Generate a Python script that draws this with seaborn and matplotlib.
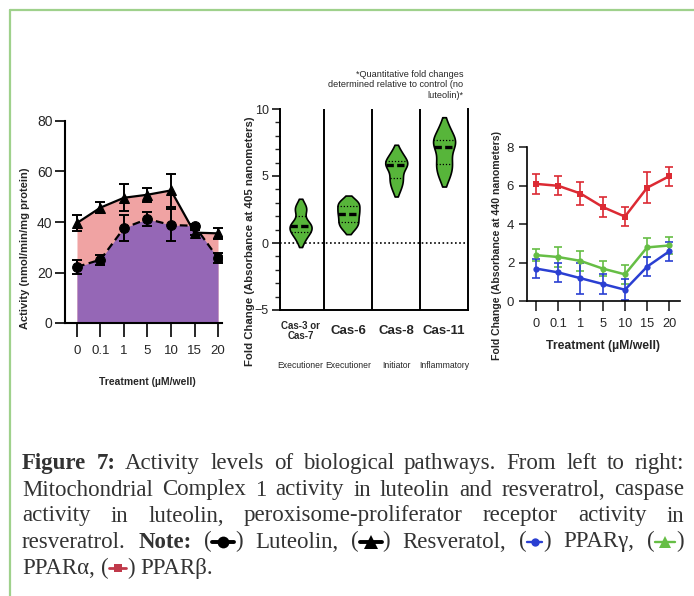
import re
import numpy as np
import pandas as pd
import matplotlib
matplotlib.use("Agg")
import matplotlib.pyplot as plt
from matplotlib import font_manager
from matplotlib.lines import Line2D
import seaborn as sns

# ---------------- data ----------------
conc_labels = ["0", "0.1", "1", "5", "10", "15", "20"]

resveratrol_mean = [39.6, 45.7, 49.6, 50.8, 52.5, 35.8, 35.5]
resveratrol_err = [3.0, 2.2, 5.3, 2.8, 6.4, 1.0, 2.2]
luteolin_mean = [22.2, 25.1, 37.6, 41.2, 38.8, 38.5, 25.7]
luteolin_err = [2.8, 2.0, 5.0, 2.8, 6.2, 0.8, 2.0]

caspases = ["Cas-3 or\nCas-7", "Cas-6", "Cas-8", "Cas-11"]
caspase_roles = ["Executioner", "Executioner", "Initiator", "Inflammatory"]
cas37_fold = [0.1, 0.6, 0.8, 0.9, 1.2, 1.3, 1.4, 1.6, 2.4, 2.5, 2.9]
cas6_fold = [1.0, 1.3, 1.5, 1.7, 2.0, 2.2, 2.4, 2.6, 2.9, 3.0, 3.2]
cas8_fold = [3.9, 4.4, 4.7, 5.0, 5.5, 5.8, 5.9, 6.0, 6.2, 6.5, 6.9]
cas11_fold = [4.8, 5.3, 5.8, 6.0, 6.6, 7.2, 7.4, 7.6, 7.8, 8.2, 8.8]

ppar_beta_mean = [6.1, 6.0, 5.6, 4.9, 4.4, 5.9, 6.5]
ppar_beta_err = [0.5, 0.5, 0.6, 0.5, 0.5, 0.8, 0.5]
ppar_alpha_mean = [2.4, 2.3, 2.1, 1.7, 1.4, 2.8, 2.9]
ppar_alpha_err = [0.3, 0.5, 0.5, 0.4, 0.5, 0.5, 0.45]
ppar_gamma_mean = [1.7, 1.5, 1.2, 0.9, 0.6, 1.8, 2.6]
ppar_gamma_err = [0.5, 0.5, 0.8, 0.5, 0.55, 0.5, 0.5]

# ---------------- style ----------------
sns.set_style("ticks")
installed = {f.name for f in font_manager.fontManager.ttflist}
NARROW = "Liberation Sans Narrow" if "Liberation Sans Narrow" in installed else "Liberation Sans"
plt.rcParams["font.family"] = [NARROW, "DejaVu Sans"]
SANS = ["Liberation Sans", "DejaVu Sans"]
SERIF = ["Liberation Serif", "DejaVu Serif"]

PINK = "#f0a3a3"
PURPLE = "#9567b6"
VGREEN = "#57b53a"
RED = "#dc2a33"
LGREEN = "#66be45"
BLUE = "#2a3fd2"
FRAME = "#9fd18c"
CAPTION = "#333333"

W, H = 694, 596
fig = plt.figure(figsize=(W / 100, H / 100), dpi=100)


def fx(x):
    return x / W


def fy(y):
    return 1 - y / H


def style_axes(ax, lw):
    for s in ax.spines.values():
        s.set_linewidth(lw)
        s.set_color("black")


# ---------------- left: mitochondrial complex 1 ----------------
axL = fig.add_axes([fx(65), fy(323), (222 - 65) / W, (323 - 121) / H])
pos = np.arange(len(conc_labels))
axL.fill_between(pos, resveratrol_mean, color=PINK, lw=0, zorder=1)
axL.fill_between(pos, luteolin_mean, color=PURPLE, lw=0, zorder=2)
axL.errorbar(pos, resveratrol_mean, yerr=resveratrol_err, fmt="none", ecolor="black",
             elinewidth=1.4, capsize=3.5, capthick=1.4, zorder=3)
axL.errorbar(pos, luteolin_mean, yerr=luteolin_err, fmt="none", ecolor="black",
             elinewidth=1.4, capsize=3.5, capthick=1.4, zorder=3)
dfL = pd.DataFrame({
    "pos": np.concatenate([pos, pos]),
    "activity": resveratrol_mean + luteolin_mean,
    "agent": ["Resveratrol"] * len(pos) + ["Luteolin"] * len(pos),
})
sns.lineplot(data=dfL, x="pos", y="activity", style="agent",
             markers={"Resveratrol": "^", "Luteolin": "o"},
             dashes={"Resveratrol": "", "Luteolin": (3.5, 2)},
             color="black", lw=1.6, markersize=7, markeredgecolor="black",
             legend=False, ax=axL, zorder=4)
axL.set_xlim(-0.51, 6.17)
axL.set_ylim(0, 80)
axL.set_yticks([0, 20, 40, 60, 80])
axL.set_xticks(pos)
axL.set_xticklabels(conc_labels)
axL.set_xlabel("")
axL.set_ylabel("")
sns.despine(ax=axL)
style_axes(axL, 1.5)
axL.tick_params(axis="x", length=10, width=1.4, pad=6, labelsize=9.5)
axL.tick_params(axis="y", length=7, width=1.4, pad=2, labelsize=10)
fig.text(fx(147), fy(382), "Treatment (µM/well)", ha="center", va="center",
         fontsize=7.5, fontweight="bold")
fig.text(fx(25), fy(248), "Activity (nmol/min/mg protein)", ha="center", va="center",
         rotation=90, fontsize=8, fontweight="bold", family=SANS)

# ---------------- middle: caspase fold change ----------------
axM = fig.add_axes([fx(280), fy(310), (468 - 280) / W, (310 - 109) / H])
fold_sets = [cas37_fold, cas6_fold, cas8_fold, cas11_fold]
dfM = pd.DataFrame({
    "caspase": [c for c, vals in zip(caspases, fold_sets) for _ in vals],
    "fold": [v for vals in fold_sets for v in vals],
})
sns.violinplot(data=dfM, x="caspase", y="fold", order=caspases, color=VGREEN,
               saturation=1, inner="quart", linecolor="black", linewidth=1.2,
               density_norm="width", width=0.46, cut=1.0, bw_adjust=0.75,
               inner_kws=dict(color="black", linewidth=0.9), ax=axM)
for i, ln in enumerate(axM.lines):
    if i % 3 == 1:
        ln.set_linewidth(2.4)
        ln.set_linestyle((0, (2.2, 1.0)))
    else:
        ln.set_linestyle((0, (1, 1.5)))
axM.axhline(0, color="black", lw=1.2, ls=(0, (1, 1.5)), zorder=0.5)
for xs in [0.5, 1.5, 2.5]:
    axM.axvline(xs, color="black", lw=1.4)
axM.set_xlim(-0.43, 3.5)
axM.set_ylim(-5, 10)
axM.set_yticks([-5, 0, 5, 10])
axM.set_yticks(np.arange(-5, 11, 1), minor=True)
axM.set_xticks(range(len(caspases)))
axM.set_xticklabels([])
axM.set_xlabel("")
axM.set_ylabel("")
axM.spines["top"].set_visible(False)
style_axes(axM, 1.4)
axM.tick_params(axis="x", length=0)
axM.tick_params(axis="y", which="major", length=6, width=1.3, pad=2, labelsize=9)
axM.tick_params(axis="y", which="minor", length=3.5, width=1.0)
xform = axM.get_xaxis_transform()
for i, (lab, role) in enumerate(zip(caspases, caspase_roles)):
    small = "\n" in lab
    axM.text(i, -(331 - 310) / 201, lab, transform=xform, ha="center", va="center",
             fontsize=7 if small else 9.5, fontweight="bold", linespacing=0.95)
    axM.text(i, -(366 - 310) / 201, role, transform=xform, ha="center", va="center",
             fontsize=6.2)
fig.text(fx(250), fy(241), "Fold Change (Absorbance at 405 nanometers)", ha="center",
         va="center", rotation=90, fontsize=8.2, fontweight="bold", family=SANS)
fig.text(fx(463), fy(85), "*Quantitative fold changes\ndetermined relative to control (no\nluteolin)*",
         ha="right", va="center", fontsize=6.6, linespacing=1.25)

# ---------------- right: PPAR activity ----------------
axR = fig.add_axes([fx(526.7), fy(301.3), (680 - 526.7) / W, (301.3 - 147.3) / H])
series = [("PPARβ", ppar_beta_mean, ppar_beta_err, RED),
          ("PPARα", ppar_alpha_mean, ppar_alpha_err, LGREEN),
          ("PPARγ", ppar_gamma_mean, ppar_gamma_err, BLUE)]
for name, m, e, c in series:
    axR.errorbar(pos, m, yerr=e, fmt="none", ecolor=c, elinewidth=1.2, capsize=3,
                 capthick=1.2, zorder=2)
dfR = pd.DataFrame({
    "pos": np.concatenate([pos] * 3),
    "fold": ppar_beta_mean + ppar_alpha_mean + ppar_gamma_mean,
    "receptor": ["PPARβ"] * 7 + ["PPARα"] * 7 + ["PPARγ"] * 7,
})
sns.lineplot(data=dfR, x="pos", y="fold", hue="receptor", style="receptor",
             palette={"PPARβ": RED, "PPARα": LGREEN, "PPARγ": BLUE},
             markers={"PPARβ": "s", "PPARα": "o", "PPARγ": "o"},
             dashes=False, lw=1.8, markersize=4.5, markeredgewidth=0,
             legend=False, ax=axR, zorder=3)
axR.set_xlim(-0.42, 6.48)
axR.set_ylim(0, 8)
axR.set_yticks([0, 2, 4, 6, 8])
axR.set_xticks(pos)
axR.set_xticklabels(conc_labels)
axR.set_xlabel("")
axR.set_ylabel("")
sns.despine(ax=axR)
style_axes(axR, 1.2)
axR.tick_params(axis="x", length=7, width=1.2, pad=5, labelsize=9.2)
axR.tick_params(axis="y", length=6, width=1.2, pad=3, labelsize=9.5)
fig.text(fx(603), fy(346), "Treatment (µM/well)", ha="center", va="center",
         fontsize=8.8, fontweight="bold")
fig.text(fx(497), fy(245), "Fold Change (Absorbance at 440 nanometers)", ha="center",
         va="center", rotation=90, fontsize=7.6, fontweight="bold", family=SANS)

# ---------------- frame ----------------
fig.add_artist(Line2D([fx(10), fx(10)], [fy(10), 0], transform=fig.transFigure,
                      color=FRAME, lw=1.6))
fig.add_artist(Line2D([fx(10), 1], [fy(10), fy(10)], transform=fig.transFigure,
                      color=FRAME, lw=1.6))

# ---------------- justified caption ----------------
symbols = {
    "lut": dict(marker="o", color="black", lw=2.8, ms=8.5, w=24),
    "res": dict(marker="^", color="black", lw=2.8, ms=9.5, w=24),
    "gam": dict(marker="o", color=BLUE, lw=1.7, ms=6, w=17),
    "alp": dict(marker="^", color=LGREEN, lw=1.7, ms=9, w=22),
    "bet": dict(marker="s", color="#c0394a", lw=2.0, ms=6, w=19),
}
caption_lines = [
    "**Figure** **7:** Activity levels of biological pathways. From left to right:",
    "Mitochondrial Complex 1 activity in luteolin and resveratrol, caspase",
    "activity in luteolin, peroxisome-proliferator receptor activity in",
    "resveratrol. **Note:** ([lut]) Luteolin, ([res]) Resveratol, ([gam]) PPARγ, ([alp])",
    "PPARα, ([bet]) PPARβ.",
]
CAP_SIZE = 16.5
renderer = fig.canvas.get_renderer()


def text_w(s, bold):
    t = fig.text(0, 0, s, fontsize=CAP_SIZE, family=SERIF,
                 fontweight="bold" if bold else "normal")
    w = t.get_window_extent(renderer).width
    t.remove()
    return w


def word_parts(word):
    bold = word.startswith("**") and word.endswith("**")
    if bold:
        word = word[2:-2]
    parts = []
    for piece in re.split(r"(\[\w+\])", word):
        if not piece:
            continue
        if piece.startswith("["):
            key = piece[1:-1]
            parts.append(("sym", key, symbols[key]["w"]))
        else:
            parts.append(("txt", piece, text_w(piece, bold), bold))
    return parts


left_x, right_x = 22, 684
space_w = text_w("a b", False) - text_w("ab", False)
baselines = [469, 495.5, 521.5, 547.5, 574]
for li, (line, base) in enumerate(zip(caption_lines, baselines)):
    words = [word_parts(w) for w in line.split(" ")]
    widths = [sum(p[2] for p in w) for w in words]
    last = li == len(caption_lines) - 1
    gap = space_w if last else (right_x - left_x - sum(widths)) / (len(words) - 1)
    x = left_x
    for parts, wsum in zip(words, widths):
        for p in parts:
            if p[0] == "txt":
                fig.text(fx(x), fy(base), p[1], fontsize=CAP_SIZE, family=SERIF,
                         fontweight="bold" if p[3] else "normal", color=CAPTION,
                         va="baseline", ha="left")
            else:
                s = symbols[p[1]]
                yc = fy(base - 6)
                fig.add_artist(Line2D([fx(x + 1), fx(x + p[2] - 1)], [yc, yc],
                                      transform=fig.transFigure, color=s["color"],
                                      lw=s["lw"]))
                fig.add_artist(Line2D([fx(x + p[2] / 2)], [yc], transform=fig.transFigure,
                                      marker=s["marker"], color=s["color"], ms=s["ms"],
                                      lw=0, markeredgewidth=0))
            x += p[2]
        x += gap

fig.savefig("out.png", dpi=100)
